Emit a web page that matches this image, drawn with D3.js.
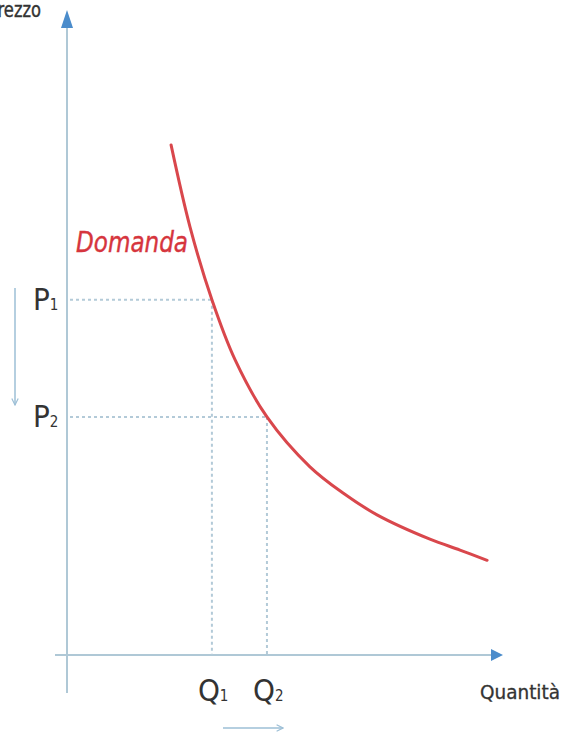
<!DOCTYPE html>
<html><head><meta charset="utf-8">
<script src="https://cdn.jsdelivr.net/npm/d3@7"></script>
<style>
html,body{margin:0;padding:0;background:#fff;overflow:hidden}
svg{display:block}
</style></head>
<body>
<script>
// Demand curve data (quantity, price) in abstract units 0..100
const quantity = [24.2, 28.6, 33.7, 39.1, 46.5, 56.5, 64.2, 72.1, 84.4, 91.4, 97.7];
const price    = [79.7, 66.9, 55.5, 46.1, 37.2, 29.4, 25.3, 21.9, 18.1, 16.4, 14.8];
// Highlighted points (index into the curve)
const markIndex = [2, 4];
const priceLabels = ["1", "2"];
const quantityLabels = ["1", "2"];
const axisLabels = ["Prezzo", "Quantità"];
const curveLabel = "Domanda";

const W = 563, H = 743;
const svg = d3.select("body").append("svg").attr("width", W).attr("height", H);
const x = d3.scaleLinear().domain([0, 100]).range([67, 497]);
const y = d3.scaleLinear().domain([0, 100]).range([655, 15]);

const axisColor = "#afc8d6", arrowColor = "#4b8ccb", red = "#d9474c", txt = "#333";
const condensed = "'Liberation Sans Narrow','DejaVu Sans Condensed','Open Sans',sans-serif";

const defs = svg.append("defs");
defs.append("marker").attr("id","open").attr("viewBox","0 0 10 10").attr("refX",9).attr("refY",5)
  .attr("markerWidth",8).attr("markerHeight",8).attr("markerUnits","userSpaceOnUse").attr("orient","auto")
  .append("path").attr("d","M1,1 L9,5 L1,9").attr("fill","none").attr("stroke","#9dbfd6").attr("stroke-width",1.5);

// axes
svg.append("line").attr("x1", x(0)).attr("x2", x(0)).attr("y1", 693).attr("y2", 24)
  .attr("stroke", axisColor).attr("stroke-width", 2);
svg.append("line").attr("x1", 55).attr("x2", 494).attr("y1", y(0)).attr("y2", y(0))
  .attr("stroke", axisColor).attr("stroke-width", 2);
svg.append("path").attr("d", `M${x(0)},10 L${x(0)-6},28 L${x(0)+6},28 Z`).attr("fill", arrowColor);
svg.append("path").attr("d", `M503,${y(0)} L491,${y(0)-6} L491,${y(0)+6} Z`).attr("fill", arrowColor);

// dotted guides
markIndex.forEach(i => {
  const qx = x(quantity[i]), py = y(price[i]);
  svg.append("line").attr("x1", x(0)+3).attr("x2", qx).attr("y1", py).attr("y2", py)
    .attr("stroke", "#b3cad8").attr("stroke-width", 2).attr("stroke-dasharray", "3,3");
  svg.append("line").attr("x1", qx).attr("x2", qx).attr("y1", py).attr("y2", y(0))
    .attr("stroke", "#b3cad8").attr("stroke-width", 2).attr("stroke-dasharray", "3,3");
});

// curve
const pts = quantity.map((q, i) => [x(q), y(price[i])]);
svg.append("path").attr("d", d3.line().curve(d3.curveCatmullRom.alpha(0.5))(pts))
  .attr("fill", "none").attr("stroke", red).attr("stroke-width", 3).attr("stroke-linecap", "round");

// labels P1, P2
markIndex.forEach((i, k) => {
  const py = y(price[i]);
  const t = svg.append("text").attr("x", 33).attr("y", py + 10).attr("font-family", condensed)
    .attr("font-size", 31).attr("fill", txt);
  t.append("tspan").text("P");
  t.append("tspan").attr("font-size", 15).text(priceLabels[k]);
});
// labels Q1, Q2
markIndex.forEach((i, k) => {
  const qx = x(quantity[i]);
  const t = svg.append("text").attr("x", qx - 14).attr("y", 701).attr("font-family", condensed)
    .attr("font-size", 31).attr("fill", txt);
  t.append("tspan").text("Q");
  t.append("tspan").attr("font-size", 15).text(quantityLabels[k]);
});

svg.append("text").attr("x", -12).attr("y", 17).attr("textLength", 53).attr("lengthAdjust","spacingAndGlyphs")
  .attr("font-family", condensed).attr("font-size", 22).attr("fill", txt)
  .attr("stroke", txt).attr("stroke-width", 0.4).text(axisLabels[0]);
svg.append("text").attr("x", 480).attr("y", 699).attr("textLength", 80).attr("lengthAdjust","spacingAndGlyphs")
  .attr("font-family", condensed).attr("font-size", 20).attr("fill", txt)
  .attr("stroke", txt).attr("stroke-width", 0.3).text(axisLabels[1]);

svg.append("text").attr("x", 76).attr("y", 252).attr("textLength", 112).attr("lengthAdjust","spacingAndGlyphs")
  .attr("font-family", "'DejaVu Sans Condensed','Open Sans',sans-serif").attr("font-style", "italic")
  .attr("font-size", 29).attr("fill", "#d6353d").attr("stroke", "#d6353d").attr("stroke-width", 0.4)
  .text(curveLabel);

// movement arrows
svg.append("line").attr("x1", 15).attr("x2", 15).attr("y1", 288).attr("y2", 405)
  .attr("stroke", "#9dbfd6").attr("stroke-width", 1.5).attr("marker-end", "url(#open)");
svg.append("line").attr("x1", 223).attr("x2", 283).attr("y1", 728).attr("y2", 728)
  .attr("stroke", "#9dbfd6").attr("stroke-width", 1.5).attr("marker-end", "url(#open)");
</script>
</body></html>
